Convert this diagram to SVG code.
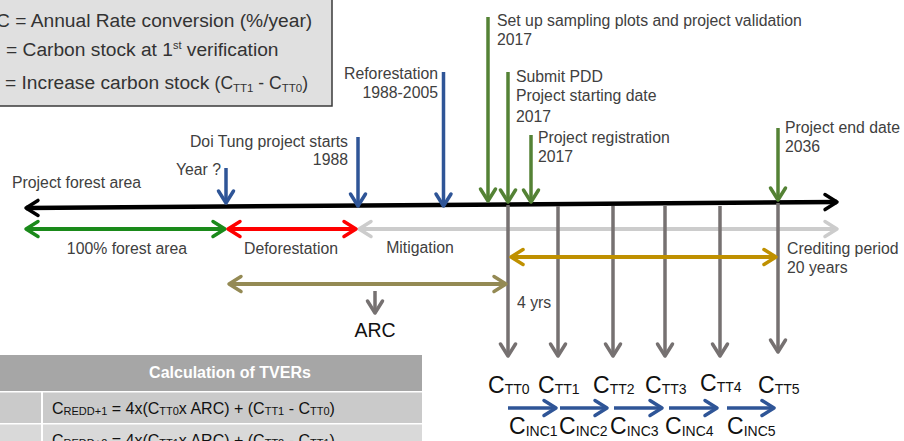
<svg xmlns="http://www.w3.org/2000/svg" width="904" height="441" viewBox="0 0 904 441">
<style>
.t{font-family:"Liberation Sans",Arial,sans-serif;font-size:15.8px;fill:#404040}
.leg{font-family:"Liberation Sans",Arial,sans-serif;font-size:19.2px;fill:#333}
.c{font-family:"Liberation Sans",Arial,sans-serif;fill:#111}
.big{font-size:23px}
.sub{font-size:14px}
.tb{font-family:"Liberation Sans",Arial,sans-serif;font-size:16px;fill:#111}
.tsub{font-size:11px}
.hdr{font-family:"Liberation Sans",Arial,sans-serif;font-size:16px;font-weight:bold;fill:#fff}
line{fill:none;stroke-linecap:butt}
.black{stroke:#000;stroke-width:4.5;marker-start:url(#ah-black);marker-end:url(#ah-black)}
.green2{stroke:#1a8a1a;stroke-width:4;marker-start:url(#ah-green2);marker-end:url(#ah-green2)}
.red{stroke:#ff0000;stroke-width:4;marker-start:url(#ah-red);marker-end:url(#ah-red)}
.lgrey{stroke:#cccccc;stroke-width:4;marker-start:url(#ah-lgrey);marker-end:url(#ah-lgrey)}
.olive{stroke:#948a54;stroke-width:4;marker-start:url(#ah-olive);marker-end:url(#ah-olive)}
.gold{stroke:#bf9000;stroke-width:4;marker-start:url(#ah-gold);marker-end:url(#ah-gold)}
.blue{stroke:#2f5597;stroke-width:3.5;marker-end:url(#ah-blue)}
.green{stroke:#548235;stroke-width:3.5;marker-end:url(#ah-green)}
.grey{stroke:#767171;stroke-width:3.5;marker-end:url(#ah-grey)}
.ch{fill:none;stroke-width:3.5;stroke-linecap:round;stroke-linejoin:round}
</style>
<defs>
<marker id="ah-black" viewBox="-16 -12 20 24" refX="0" refY="0" markerWidth="20" markerHeight="24" markerUnits="userSpaceOnUse" orient="auto-start-reverse"><path class="ch" d="M-12,-7.5 L0,0 L-12,7.5" stroke="#000" stroke-width="4.5"/></marker>
<marker id="ah-green2" viewBox="-16 -12 20 24" refX="0" refY="0" markerWidth="20" markerHeight="24" markerUnits="userSpaceOnUse" orient="auto-start-reverse"><path class="ch" d="M-12,-7.5 L0,0 L-12,7.5" stroke="#1a8a1a" stroke-width="4"/></marker>
<marker id="ah-red" viewBox="-16 -12 20 24" refX="0" refY="0" markerWidth="20" markerHeight="24" markerUnits="userSpaceOnUse" orient="auto-start-reverse"><path class="ch" d="M-12,-7.5 L0,0 L-12,7.5" stroke="#ff0000" stroke-width="4"/></marker>
<marker id="ah-lgrey" viewBox="-16 -12 20 24" refX="0" refY="0" markerWidth="20" markerHeight="24" markerUnits="userSpaceOnUse" orient="auto-start-reverse"><path class="ch" d="M-12,-7.5 L0,0 L-12,7.5" stroke="#cccccc" stroke-width="4"/></marker>
<marker id="ah-olive" viewBox="-16 -12 20 24" refX="0" refY="0" markerWidth="20" markerHeight="24" markerUnits="userSpaceOnUse" orient="auto-start-reverse"><path class="ch" d="M-12,-7.5 L0,0 L-12,7.5" stroke="#948a54" stroke-width="4"/></marker>
<marker id="ah-gold" viewBox="-16 -12 20 24" refX="0" refY="0" markerWidth="20" markerHeight="24" markerUnits="userSpaceOnUse" orient="auto-start-reverse"><path class="ch" d="M-12,-7.5 L0,0 L-12,7.5" stroke="#bf9000" stroke-width="4"/></marker>
<marker id="ah-blue" viewBox="-16 -12 20 24" refX="0" refY="0" markerWidth="20" markerHeight="24" markerUnits="userSpaceOnUse" orient="auto"><path class="ch" d="M-12,-7.5 L0,0 L-12,7.5" stroke="#2f5597"/></marker>
<marker id="ah-green" viewBox="-16 -12 20 24" refX="0" refY="0" markerWidth="20" markerHeight="24" markerUnits="userSpaceOnUse" orient="auto"><path class="ch" d="M-12,-7.5 L0,0 L-12,7.5" stroke="#548235"/></marker>
<marker id="ah-grey" viewBox="-16 -12 20 24" refX="0" refY="0" markerWidth="20" markerHeight="24" markerUnits="userSpaceOnUse" orient="auto"><path class="ch" d="M-12,-7.5 L0,0 L-12,7.5" stroke="#767171"/></marker>
</defs>
<rect width="904" height="441" fill="#fff"/>

<g id="legend">
<rect x="-10" y="-10" width="342" height="116" fill="#e0e0e0" stroke="#3a3a3a" stroke-width="1.5"/>
<text class="leg" x="-4" y="27">C = Annual Rate conversion (%/year)</text>
<text class="leg" x="6" y="56">= Carbon stock at 1<tspan font-size="11" dy="-7">st</tspan><tspan dy="7"> verification</tspan></text>
<text class="leg" x="5" y="89">= Increase carbon stock <tspan font-size="17.5">(C</tspan><tspan font-size="11.5" dy="3">TT1</tspan><tspan font-size="17.5" dy="-3"> - C</tspan><tspan font-size="11.5" dy="3">TT0</tspan><tspan font-size="17.5" dy="-3">)</tspan></text>
</g>

<g id="connectors">
<line class="lgrey" x1="359" y1="229" x2="837" y2="229"/>
<line class="black" x1="26" y1="208" x2="837" y2="202"/>
<line class="green2" x1="26" y1="229" x2="225" y2="229"/>
<line class="red" x1="228" y1="229" x2="356" y2="229"/>
<line class="blue" x1="226" y1="168" x2="226" y2="203"/>
<line class="blue" x1="358" y1="137" x2="358" y2="206"/>
<line class="blue" x1="443.5" y1="72" x2="443.5" y2="206"/>
<line class="green" x1="488" y1="17" x2="488" y2="201"/>
<line class="green" x1="508" y1="72" x2="508" y2="202"/>
<line class="green" x1="531" y1="135" x2="531" y2="202"/>
<line class="green" x1="778" y1="128" x2="778" y2="200"/>
<line class="grey" x1="508" y1="205" x2="508" y2="356"/>
<line class="grey" x1="558" y1="206" x2="558" y2="356"/>
<line class="grey" x1="613" y1="206" x2="613" y2="356"/>
<line class="grey" x1="665" y1="206" x2="665" y2="356"/>
<line class="grey" x1="720" y1="206" x2="720" y2="356"/>
<line class="grey" x1="778" y1="203" x2="778" y2="352"/>
<line class="gold" x1="511" y1="257" x2="776" y2="257"/>
<line class="olive" x1="229" y1="284" x2="506" y2="284"/>
<line class="grey" x1="375" y1="291" x2="375" y2="313"/>
<line class="blue" x1="508" y1="408" x2="556" y2="408"/>
<line class="blue" x1="560" y1="408" x2="607" y2="408"/>
<line class="blue" x1="614" y1="408" x2="662" y2="408"/>
<line class="blue" x1="669" y1="408" x2="717" y2="408"/>
<line class="blue" x1="727" y1="408" x2="774" y2="408"/>
</g>

<g id="project-forest-area"><text class="t" x="12" y="188">Project forest area</text></g>
<g id="year"><text class="t" x="221" y="175" text-anchor="end">Year ?</text></g>
<g id="doi-tung"><text class="t" x="348" y="147" text-anchor="end">Doi Tung project starts</text><text class="t" x="348" y="165" text-anchor="end">1988</text></g>
<g id="reforestation"><text class="t" x="438" y="79" text-anchor="end">Reforestation</text><text class="t" x="438" y="98" text-anchor="end">1988-2005</text></g>
<g id="setup"><text class="t" x="497" y="26">Set up sampling plots and project validation</text><text class="t" x="497" y="45">2017</text></g>
<g id="submit-pdd"><text class="t" x="516" y="82">Submit PDD</text><text class="t" x="516" y="101">Project starting date</text><text class="t" x="516" y="122">2017</text></g>
<g id="registration"><text class="t" x="538" y="143">Project registration</text><text class="t" x="538" y="162">2017</text></g>
<g id="end-date"><text class="t" x="785" y="133">Project end date</text><text class="t" x="785" y="152">2036</text></g>
<g id="forest"><text class="t" x="127" y="254" text-anchor="middle">100% forest area</text></g>
<g id="deforestation"><text class="t" x="291" y="254" text-anchor="middle">Deforestation</text></g>
<g id="mitigation"><text class="t" x="420" y="253" text-anchor="middle">Mitigation</text></g>
<g id="crediting"><text class="t" x="787" y="254">Crediting period</text><text class="t" x="787" y="273">20 years</text></g>
<g id="four-yrs"><text class="t" x="517" y="308">4 yrs</text></g>
<g id="arc"><text class="c" x="375" y="337" font-size="19.5" text-anchor="middle">ARC</text></g>

<g id="ctt">
<text class="c big" x="488" y="393">C<tspan class="sub" dy="1">TT0</tspan></text>
<text class="c big" x="538" y="393">C<tspan class="sub" dy="1">TT1</tspan></text>
<text class="c big" x="593" y="393">C<tspan class="sub" dy="1">TT2</tspan></text>
<text class="c big" x="645" y="393">C<tspan class="sub" dy="1">TT3</tspan></text>
<text class="c big" x="700" y="391">C<tspan class="sub" dy="1">TT4</tspan></text>
<text class="c big" x="758" y="393">C<tspan class="sub" dy="1">TT5</tspan></text>
</g>
<g id="cinc">
<text class="c big" x="509" y="434">C<tspan class="sub" font-size="13" dy="2">INC1</tspan></text>
<text class="c big" x="559" y="434">C<tspan class="sub" font-size="13" dy="2">INC2</tspan></text>
<text class="c big" x="610" y="434">C<tspan class="sub" font-size="13" dy="2">INC3</tspan></text>
<text class="c big" x="665" y="434">C<tspan class="sub" font-size="13" dy="2">INC4</tspan></text>
<text class="c big" x="727" y="434">C<tspan class="sub" font-size="13" dy="2">INC5</tspan></text>
</g>

<g id="table">
<rect x="-5" y="355" width="427" height="36" fill="#a6a6a6"/>
<rect x="-5" y="392.5" width="46" height="30.5" fill="#cacaca"/>
<rect x="43" y="392.5" width="379" height="30.5" fill="#cacaca"/>
<rect x="-5" y="424.5" width="46" height="30" fill="#d9d9d9"/>
<rect x="43" y="424.5" width="379" height="30" fill="#d9d9d9"/>
<text class="hdr" x="230" y="378" text-anchor="middle">Calculation of TVERs</text>
<text class="tb" x="52" y="414">C<tspan class="tsub" dy="1">REDD+1</tspan><tspan dy="-1"> = 4x(C</tspan><tspan class="tsub" dy="1">TT0</tspan><tspan dy="-1">x ARC) + (C</tspan><tspan class="tsub" dy="1">TT1</tspan><tspan dy="-1"> - C</tspan><tspan class="tsub" dy="1">TT0</tspan><tspan dy="-1">)</tspan></text>
<text class="tb" x="52" y="446">C<tspan class="tsub" dy="1">REDD+2</tspan><tspan dy="-1"> = 4x(C</tspan><tspan class="tsub" dy="1">TT1</tspan><tspan dy="-1">x ARC) + (C</tspan><tspan class="tsub" dy="1">TT2</tspan><tspan dy="-1"> - C</tspan><tspan class="tsub" dy="1">TT1</tspan><tspan dy="-1">)</tspan></text>
</g>
</svg>
